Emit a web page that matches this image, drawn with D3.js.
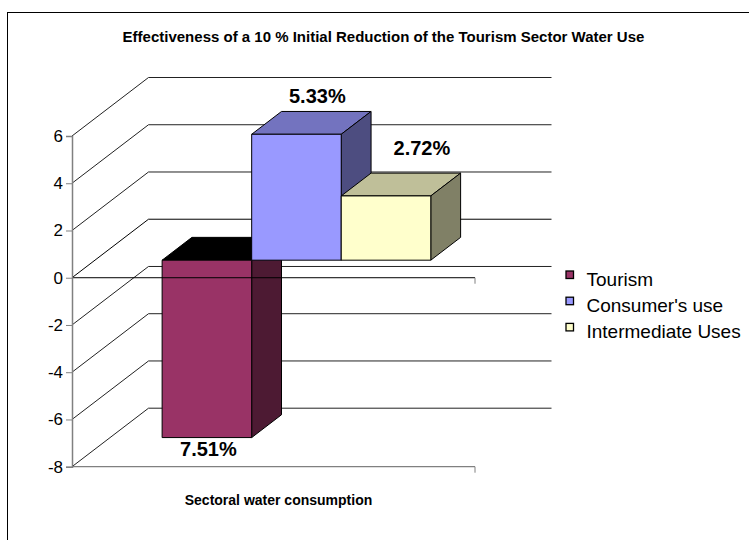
<!DOCTYPE html>
<html>
<head>
<meta charset="utf-8">
<script src="https://cdn.jsdelivr.net/npm/d3@7"></script>
<style>
  html, body { margin: 0; padding: 0; background: #fff; }
  svg { display: block; font-family: "Liberation Sans", Arial, sans-serif; }
</style>
</head>
<body>
<svg id="chart" width="749" height="540"></svg>
<script>
// Chart data
const categories = ["Sectoral water consumption"];
const seriesNames = ["Tourism", "Consumer's use", "Intermediate Uses"];
const seriesValues = [-7.51, 5.33, 2.72];
const seriesColors = ["#993366", "#9999FF", "#FFFFCC"];
const yTicks = [-8, -6, -4, -2, 0, 2, 4, 6];
const chartTitle = "Effectiveness of a 10 % Initial Reduction of the Tourism Sector Water Use";

const svg = d3.select("#chart");

// Plot geometry (front plane) and 3D depth offset
const front = { left: 72, right: 475, top: 136, bottom: 466.7 };
const DX = 76.5, DY = -58.5;          // full depth of the plot box
const D1 = 0.30, D2 = 0.69;           // depth span occupied by the columns

const y = d3.scaleLinear().domain([-8, 6]).range([front.bottom, front.top]);
const x0 = d3.scaleBand().domain(categories).range([front.left, front.right])
  .paddingInner(0).paddingOuter(0.25);
const x1 = d3.scaleBand().domain(seriesNames).range([0, x0.bandwidth()]).padding(0);

const P = (x, v, d) => [x + d * DX, y(v) + d * DY];
const poly = pts => pts.map(p => p.join(",")).join(" ");

// Outer frame
svg.append("rect").attr("x", 7.5).attr("y", 12.5).attr("width", 800).attr("height", 600)
  .attr("fill", "none").attr("stroke", "#000").attr("stroke-width", 1);

// Title
svg.append("text").attr("x", 383.5).attr("y", 42.3).attr("text-anchor", "middle")
  .attr("font-size", 15).attr("font-weight", "bold").text(chartTitle);

// Back wall gridlines and side wall diagonals
const grid = svg.append("g");
yTicks.forEach(t => {
  const a = P(front.left, t, 0), b = P(front.left, t, 1), c = P(front.right, t, 1);
  grid.append("polyline").attr("points", poly([a, b, c]))
    .attr("fill", "none").attr("stroke", t === 0 ? "#000" : "#222").attr("stroke-width", 1);
});

// Columns
const bars = svg.append("g");
seriesNames.forEach((name, i) => {
  const v = seriesValues[i];
  const xl = x0(categories[0]) + x1(name), xr = xl + x1.bandwidth();
  const base = d3.color(seriesColors[i]);
  const topColor = v >= 0 ? d3.rgb(base.r * 0.75, base.g * 0.75, base.b * 0.75) : "#000";
  const sideColor = d3.rgb(base.r * 0.5, base.g * 0.5, base.b * 0.5);
  const vt = Math.max(0, v), vb = Math.min(0, v);
  const g = bars.append("g").attr("stroke", "#000").attr("stroke-width", 1).attr("stroke-linejoin", "round");
  // top face
  g.append("polygon").attr("fill", topColor)
    .attr("points", poly([P(xl, vt, D1), P(xr, vt, D1), P(xr, vt, D2), P(xl, vt, D2)]));
  // right side face
  g.append("polygon").attr("fill", sideColor)
    .attr("points", poly([P(xr, vt, D1), P(xr, vt, D2), P(xr, vb, D2), P(xr, vb, D1)]));
  // front face
  g.append("polygon").attr("fill", seriesColors[i])
    .attr("points", poly([P(xl, vt, D1), P(xr, vt, D1), P(xr, vb, D1), P(xl, vb, D1)]));
});

// Front edges: zero line and floor line with end ticks
svg.append("line").attr("x1", front.left).attr("x2", front.right)
  .attr("y1", y(0)).attr("y2", y(0)).attr("stroke", "#000").attr("stroke-width", 1);
svg.append("line").attr("x1", front.right).attr("x2", front.right)
  .attr("y1", y(0)).attr("y2", y(0) + 6).attr("stroke", "#808080");
svg.append("line").attr("x1", front.left).attr("x2", front.right)
  .attr("y1", y(-8)).attr("y2", y(-8)).attr("stroke", "#808080").attr("stroke-width", 1.2);
svg.append("line").attr("x1", front.right).attr("x2", front.right)
  .attr("y1", y(-8)).attr("y2", y(-8) + 6).attr("stroke", "#808080");

// Value axis
const yAxis = d3.axisLeft(y).tickValues(yTicks).tickSize(6).tickPadding(3)
  .tickFormat(d => String(d));
const ax = svg.append("g").attr("transform", `translate(${front.left},0)`).call(yAxis);
ax.attr("font-size", 17).attr("font-family", "'Liberation Sans', Arial, sans-serif");
ax.select(".domain").attr("stroke", "#808080").attr("stroke-width", 1.5);
ax.selectAll(".tick line").attr("stroke", "#808080");
ax.selectAll(".tick text").style("font-size", "17px").attr("fill", "#000");

// Value labels
const fmt = v => Math.abs(v).toFixed(2) + "%";
const labelNudge = [[1.5, 18.5], [6, -20], [21, -29.5]];
seriesNames.forEach((name, i) => {
  const v = seriesValues[i];
  const xl = x0(categories[0]) + x1(name), xr = xl + x1.bandwidth();
  const p = v < 0 ? P((xl + xr) / 2, v, D1) : P((xl + xr) / 2, v, (D1 + D2) / 2);
  svg.append("text").attr("x", p[0] + labelNudge[i][0]).attr("y", p[1] + labelNudge[i][1])
    .attr("text-anchor", "middle").attr("font-size", 20).attr("font-weight", "bold")
    .text(fmt(v));
});

// Category label
svg.append("text").attr("x", x0(categories[0]) + x0.bandwidth() / 2 + 5).attr("y", 505)
  .attr("text-anchor", "middle").attr("font-size", 14).attr("font-weight", "bold")
  .text(categories[0]);

// Legend
const legend = svg.append("g");
seriesNames.forEach((name, i) => {
  const by = 286 + i * 26.2;
  legend.append("rect").attr("x", 566).attr("y", by - 15).attr("width", 7.5).attr("height", 7.5)
    .attr("fill", seriesColors[i]).attr("stroke", "#000").attr("stroke-width", 1.3);
  legend.append("text").attr("x", 586.5).attr("y", by).attr("font-size", 19).text(name);
});
</script>
</body>
</html>
